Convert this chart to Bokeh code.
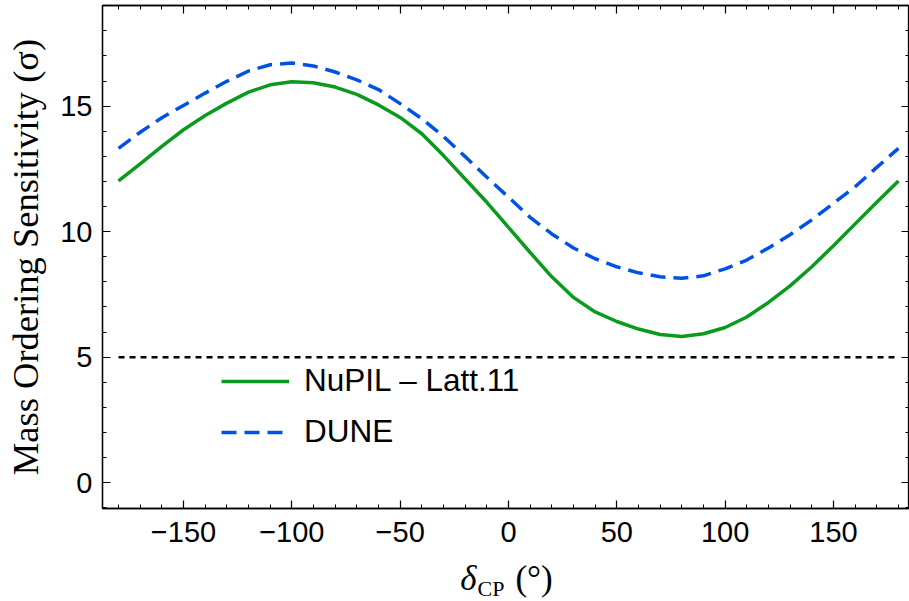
import numpy as np
from bokeh.plotting import figure
from bokeh.layouts import column
from bokeh.models import (Range1d, FixedTicker, LinearAxis, Legend, LegendItem, Div)
from bokeh.embed import file_html
from bokeh.resources import INLINE

# ---- data ----
delta_cp = [-180, -170, -160, -150, -140, -130, -120, -110, -100, -90, -80, -70, -60,
            -50, -40, -30, -20, -10, 0, 10, 20, 30, 40, 50, 60, 70, 80, 90, 100, 110,
            120, 130, 140, 150, 160, 170, 180]
nupil = [12.02, 12.70, 13.40, 14.06, 14.63, 15.12, 15.56, 15.85, 15.97, 15.93, 15.76, 15.47,
         15.05, 14.55, 13.90, 13.03, 12.10, 11.17, 10.17, 9.17, 8.20, 7.38, 6.80, 6.42,
         6.12, 5.90, 5.82, 5.93, 6.18, 6.60, 7.18, 7.84, 8.60, 9.44, 10.31, 11.17, 12.02]
dune = [13.32, 13.96, 14.54, 15.03, 15.52, 15.99, 16.40, 16.65, 16.72, 16.60, 16.36, 16.05,
        15.66, 15.10, 14.50, 13.79, 12.99, 12.17, 11.37, 10.57, 9.91, 9.35, 8.92, 8.60,
        8.36, 8.20, 8.14, 8.24, 8.52, 8.87, 9.35, 9.88, 10.47, 11.13, 11.79, 12.56, 13.32]
threshold_x = [-180, 180]
threshold_y = [5, 5]

x_ticks = [-150, -100, -50, 0, 50, 100, 150]
x_tick_labels = ["\u2212150", "\u2212100", "\u221250", "0", "50", "100", "150"]
y_ticks = [0, 5, 10, 15]
y_tick_labels = ["0", "5", "10", "15"]
x_minor = list(range(-180, 181, 10))
y_minor = list(range(-1, 20, 1))

series_names = ["NuPIL \u2013 Latt.11", "DUNE"]
y_title = "Mass Ordering Sensitivity (\u03c3)"
x_title_parts = ["\u03b4", "CP", "(\u00b0)"]

GREEN = "#0a9a1e"
BLUE = "#0052e6"

p = figure(width=909, height=561, output_backend="svg", toolbar_location=None,
           x_range=Range1d(-187.4, 185.1), y_range=Range1d(-1.03, 19.01),
           min_border_left=102, min_border_bottom=53, min_border_top=5, min_border_right=0)
p.background_fill_color = "white"
p.border_fill_color = "white"
p.grid.visible = False
p.outline_line_color = "black"
p.outline_line_width = 1.3

def style_axis(ax, ticks, minor, labels, show_labels=True):
    ax.ticker = FixedTicker(ticks=ticks, minor_ticks=minor)
    ax.major_tick_in = 8
    ax.major_tick_out = 0
    ax.minor_tick_in = 4
    ax.minor_tick_out = 0
    ax.axis_line_color = "black"
    ax.axis_line_width = 1.3
    ax.major_tick_line_color = "black"
    ax.minor_tick_line_color = "black"
    ax.major_tick_line_width = 1.2
    ax.minor_tick_line_width = 1.0
    if show_labels:
        ax.major_label_overrides = {t: l for t, l in zip(ticks, labels)}
        ax.major_label_text_font = "Liberation Sans"
        ax.major_label_text_font_size = "29px"
        ax.major_label_text_color = "black"
    else:
        ax.major_label_overrides = {t: "" for t in ticks}
        ax.major_label_text_font_size = "1px"
        ax.major_label_standoff = 0

style_axis(p.xaxis[0], x_ticks, x_minor, x_tick_labels)
p.xaxis[0].major_label_standoff = 13
style_axis(p.yaxis[0], y_ticks, y_minor, y_tick_labels)
p.yaxis[0].major_label_standoff = 10
p.yaxis[0].axis_label = y_title
p.yaxis[0].axis_label_text_font = "Liberation Serif"
p.yaxis[0].axis_label_text_font_size = "36.5px"
p.yaxis[0].axis_label_text_font_style = "normal"
p.yaxis[0].axis_label_text_color = "black"
p.yaxis[0].axis_label_standoff = 11

top_ax = LinearAxis()
style_axis(top_ax, x_ticks, x_minor, x_tick_labels, show_labels=False)
p.add_layout(top_ax, "above")
right_ax = LinearAxis()
style_axis(right_ax, y_ticks, y_minor, y_tick_labels, show_labels=False)
p.add_layout(right_ax, "right")

# threshold line
p.line(threshold_x, threshold_y, line_color="black", line_width=2.5, line_dash="6 5")

r_nupil = p.line(delta_cp, nupil, line_color=GREEN, line_width=3.5)
r_dune = p.line(delta_cp, dune, line_color=BLUE, line_width=3.5, line_dash="15 8")

legend = Legend(items=[LegendItem(label=series_names[0], renderers=[r_nupil]),
                       LegendItem(label=series_names[1], renderers=[r_dune])],
                location=(119, 58), border_line_color=None, background_fill_alpha=0,
                label_text_font="Liberation Sans", label_text_font_size="31.5px",
                label_text_color="black",
                glyph_width=68, glyph_height=34, label_height=34, label_standoff=15,
                spacing=14, padding=10, margin=0)
p.add_layout(legend)

# x axis title (delta italic with subscript CP) as rich text below the plot
x_title_html = (
    '<span style="font-style:italic">%s</span>'
    '<span style="font-size:22px; position:relative; top:6px; margin-left:1px">%s</span>'
    '<span style="margin-left:11px">%s</span>' % tuple(x_title_parts)
)
xdiv = Div(text=x_title_html, width=909, height=40,
           styles={"font-family": "Liberation Serif", "font-size": "35px",
                   "color": "black", "line-height": "36px", "text-align": "center",
                   "padding-left": "104px", "box-sizing": "border-box",
                   "margin": "0", "white-space": "nowrap", "overflow": "visible"})

layout = column(p, xdiv, spacing=0)
open("out.html", "w").write(file_html(layout, INLINE))
